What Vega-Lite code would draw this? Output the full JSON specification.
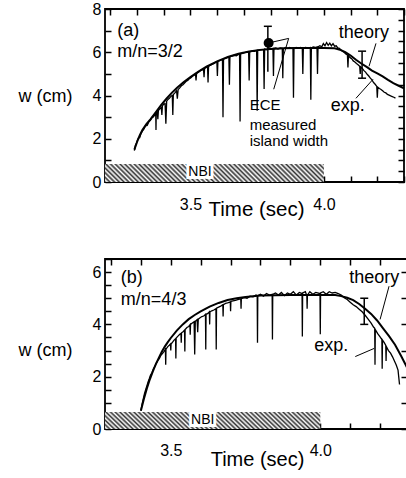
{
  "$schema": "https://vega.github.io/schema/vega-lite/v6.json",
  "padding": {"left": 17, "top": 0, "right": 0, "bottom": 0},
  "spacing": 29,
  "background": "white",
  "config": {
    "view": {"stroke": "black", "strokeWidth": 1.8},
    "font": "Liberation Sans",
    "axis": {"grid": false, "domain": false, "labelFont": "Liberation Sans", "titleFont": "Liberation Sans", "labelFontSize": 16, "titleFontSize": 18, "titleFontWeight": "normal", "labelColor": "black", "titleColor": "black", "tickColor": "black", "tickSize": 6, "offset": -6, "tickWidth": 1.5, "labelOverlap": false, "labelFlush": false, "zindex": 2},
    "text": {"font": "Liberation Sans", "color": "black"},
    "rect": {"fill": {"gradient": "linear", "x1": 0, "y1": 1, "x2": 1.0753, "y2": 0.9112, "stops": [
      {"offset": 0, "color": "#333333"}, {"offset": 0.01, "color": "#ffffff"}, {"offset": 0.02, "color": "#333333"}, {"offset": 0.03, "color": "#ffffff"}, {"offset": 0.04, "color": "#333333"},
      {"offset": 0.05, "color": "#ffffff"}, {"offset": 0.06, "color": "#333333"}, {"offset": 0.07, "color": "#ffffff"}, {"offset": 0.08, "color": "#333333"}, {"offset": 0.09, "color": "#ffffff"},
      {"offset": 0.1, "color": "#333333"}, {"offset": 0.11, "color": "#ffffff"}, {"offset": 0.12, "color": "#333333"}, {"offset": 0.13, "color": "#ffffff"}, {"offset": 0.14, "color": "#333333"},
      {"offset": 0.15, "color": "#ffffff"}, {"offset": 0.16, "color": "#333333"}, {"offset": 0.17, "color": "#ffffff"}, {"offset": 0.18, "color": "#333333"}, {"offset": 0.19, "color": "#ffffff"},
      {"offset": 0.2, "color": "#333333"}, {"offset": 0.21, "color": "#ffffff"}, {"offset": 0.22, "color": "#333333"}, {"offset": 0.23, "color": "#ffffff"}, {"offset": 0.24, "color": "#333333"},
      {"offset": 0.25, "color": "#ffffff"}, {"offset": 0.26, "color": "#333333"}, {"offset": 0.27, "color": "#ffffff"}, {"offset": 0.28, "color": "#333333"}, {"offset": 0.29, "color": "#ffffff"},
      {"offset": 0.3, "color": "#333333"}, {"offset": 0.31, "color": "#ffffff"}, {"offset": 0.32, "color": "#333333"}, {"offset": 0.33, "color": "#ffffff"}, {"offset": 0.34, "color": "#333333"},
      {"offset": 0.35, "color": "#ffffff"}, {"offset": 0.36, "color": "#333333"}, {"offset": 0.37, "color": "#ffffff"}, {"offset": 0.38, "color": "#333333"}, {"offset": 0.39, "color": "#ffffff"},
      {"offset": 0.4, "color": "#333333"}, {"offset": 0.41, "color": "#ffffff"}, {"offset": 0.42, "color": "#333333"}, {"offset": 0.43, "color": "#ffffff"}, {"offset": 0.44, "color": "#333333"},
      {"offset": 0.45, "color": "#ffffff"}, {"offset": 0.46, "color": "#333333"}, {"offset": 0.47, "color": "#ffffff"}, {"offset": 0.48, "color": "#333333"}, {"offset": 0.49, "color": "#ffffff"},
      {"offset": 0.5, "color": "#333333"}, {"offset": 0.51, "color": "#ffffff"}, {"offset": 0.52, "color": "#333333"}, {"offset": 0.53, "color": "#ffffff"}, {"offset": 0.54, "color": "#333333"},
      {"offset": 0.55, "color": "#ffffff"}, {"offset": 0.56, "color": "#333333"}, {"offset": 0.57, "color": "#ffffff"}, {"offset": 0.58, "color": "#333333"}, {"offset": 0.59, "color": "#ffffff"},
      {"offset": 0.6, "color": "#333333"}, {"offset": 0.61, "color": "#ffffff"}, {"offset": 0.62, "color": "#333333"}, {"offset": 0.63, "color": "#ffffff"}, {"offset": 0.64, "color": "#333333"},
      {"offset": 0.65, "color": "#ffffff"}, {"offset": 0.66, "color": "#333333"}, {"offset": 0.67, "color": "#ffffff"}, {"offset": 0.68, "color": "#333333"}, {"offset": 0.69, "color": "#ffffff"},
      {"offset": 0.7, "color": "#333333"}, {"offset": 0.71, "color": "#ffffff"}, {"offset": 0.72, "color": "#333333"}, {"offset": 0.73, "color": "#ffffff"}, {"offset": 0.74, "color": "#333333"},
      {"offset": 0.75, "color": "#ffffff"}, {"offset": 0.76, "color": "#333333"}, {"offset": 0.77, "color": "#ffffff"}, {"offset": 0.78, "color": "#333333"}, {"offset": 0.79, "color": "#ffffff"},
      {"offset": 0.8, "color": "#333333"}, {"offset": 0.81, "color": "#ffffff"}, {"offset": 0.82, "color": "#333333"}, {"offset": 0.83, "color": "#ffffff"}, {"offset": 0.84, "color": "#333333"},
      {"offset": 0.85, "color": "#ffffff"}, {"offset": 0.86, "color": "#333333"}, {"offset": 0.87, "color": "#ffffff"}, {"offset": 0.88, "color": "#333333"}, {"offset": 0.89, "color": "#ffffff"},
      {"offset": 0.9, "color": "#333333"}, {"offset": 0.91, "color": "#ffffff"}, {"offset": 0.92, "color": "#333333"}, {"offset": 0.93, "color": "#ffffff"}, {"offset": 0.94, "color": "#333333"},
      {"offset": 0.95, "color": "#ffffff"}, {"offset": 0.96, "color": "#333333"}, {"offset": 0.97, "color": "#ffffff"}, {"offset": 0.98, "color": "#333333"}, {"offset": 0.99, "color": "#ffffff"},
      {"offset": 1, "color": "#333333"}
    ]}}
  },
  "resolve": {"scale": {"x": "independent", "y": "independent"}},
  "datasets": {
    "nbiA": [{"t": 3.18, "t2": 4.0, "w": 0, "w2": 0.83}],
    "nbiB": [{"t": 3.28, "t2": 4.0, "w": 0, "w2": 0.65}],
    "nbiTextA": [{"t": 3.536, "w": 0.44, "s": "NBI"}],
    "nbiTextB": [{"t": 3.607, "w": 0.36, "s": "NBI"}],
    "thA": [
      {"t": 3.29, "w": 1.5}, {"t": 3.3, "w": 1.85}, {"t": 3.31, "w": 2.15}, {"t": 3.32, "w": 2.4}, {"t": 3.335, "w": 2.68},
      {"t": 3.35, "w": 2.9}, {"t": 3.37, "w": 3.22}, {"t": 3.39, "w": 3.55}, {"t": 3.41, "w": 3.85}, {"t": 3.43, "w": 4.12},
      {"t": 3.45, "w": 4.36}, {"t": 3.475, "w": 4.62}, {"t": 3.5, "w": 4.85}, {"t": 3.53, "w": 5.1}, {"t": 3.56, "w": 5.33},
      {"t": 3.6, "w": 5.58}, {"t": 3.64, "w": 5.78}, {"t": 3.68, "w": 5.93}, {"t": 3.72, "w": 6.04}, {"t": 3.76, "w": 6.11},
      {"t": 3.8, "w": 6.15}, {"t": 3.85, "w": 6.18}, {"t": 3.9, "w": 6.2}, {"t": 3.95, "w": 6.2}, {"t": 4.0, "w": 6.2},
      {"t": 4.04, "w": 6.18}, {"t": 4.06, "w": 6.12}, {"t": 4.08, "w": 6.0}, {"t": 4.1, "w": 5.85}, {"t": 4.12, "w": 5.65},
      {"t": 4.14, "w": 5.48}, {"t": 4.16, "w": 5.32}, {"t": 4.18, "w": 5.15}, {"t": 4.2, "w": 5.02}, {"t": 4.22, "w": 4.88},
      {"t": 4.24, "w": 4.72}, {"t": 4.26, "w": 4.57}, {"t": 4.28, "w": 4.45}, {"t": 4.3, "w": 4.33}
    ],
    "expA": [
      {"t": 3.29, "w": 1.45}, {"t": 3.294, "w": 1.7}, {"t": 3.298, "w": 1.8}, {"t": 3.302, "w": 1.95}, {"t": 3.306, "w": 2.05},
      {"t": 3.31, "w": 2.05}, {"t": 3.315, "w": 2.25}, {"t": 3.32, "w": 2.35}, {"t": 3.326, "w": 2.45}, {"t": 3.332, "w": 2.6},
      {"t": 3.338, "w": 2.62}, {"t": 3.344, "w": 2.78}, {"t": 3.35, "w": 2.85}, {"t": 3.356, "w": 2.98}, {"t": 3.362, "w": 3.02},
      {"t": 3.368, "w": 3.15}, {"t": 3.37, "w": 3.18}, {"t": 3.371, "w": 2.4}, {"t": 3.372, "w": 3.2}, {"t": 3.376, "w": 3.24},
      {"t": 3.378, "w": 2.9}, {"t": 3.38, "w": 3.3}, {"t": 3.385, "w": 3.38}, {"t": 3.391, "w": 3.45}, {"t": 3.393, "w": 3.1},
      {"t": 3.395, "w": 3.52}, {"t": 3.4, "w": 3.6}, {"t": 3.405, "w": 3.62}, {"t": 3.408, "w": 2.7}, {"t": 3.411, "w": 3.74},
      {"t": 3.416, "w": 3.82}, {"t": 3.422, "w": 3.88}, {"t": 3.428, "w": 3.98}, {"t": 3.432, "w": 4.0}, {"t": 3.434, "w": 3.1},
      {"t": 3.436, "w": 4.05}, {"t": 3.442, "w": 4.12}, {"t": 3.448, "w": 4.22}, {"t": 3.451, "w": 3.85}, {"t": 3.454, "w": 4.28},
      {"t": 3.46, "w": 4.35}, {"t": 3.466, "w": 4.45}, {"t": 3.472, "w": 4.5}, {"t": 3.478, "w": 4.58}, {"t": 3.484, "w": 4.66},
      {"t": 3.49, "w": 4.7}, {"t": 3.496, "w": 4.78}, {"t": 3.502, "w": 4.82}, {"t": 3.508, "w": 4.9}, {"t": 3.514, "w": 4.94},
      {"t": 3.519, "w": 5.0}, {"t": 3.521, "w": 4.7}, {"t": 3.523, "w": 5.02}, {"t": 3.53, "w": 5.08}, {"t": 3.537, "w": 5.15},
      {"t": 3.544, "w": 5.18}, {"t": 3.549, "w": 5.22}, {"t": 3.551, "w": 4.85}, {"t": 3.553, "w": 5.25}, {"t": 3.559, "w": 5.3},
      {"t": 3.564, "w": 5.35}, {"t": 3.566, "w": 4.6}, {"t": 3.568, "w": 5.36}, {"t": 3.575, "w": 5.4}, {"t": 3.582, "w": 5.45},
      {"t": 3.589, "w": 5.48}, {"t": 3.595, "w": 5.55}, {"t": 3.599, "w": 5.56}, {"t": 3.601, "w": 4.9}, {"t": 3.603, "w": 5.58},
      {"t": 3.61, "w": 5.62}, {"t": 3.617, "w": 5.66}, {"t": 3.62, "w": 5.66}, {"t": 3.622, "w": 3.0}, {"t": 3.624, "w": 5.7},
      {"t": 3.632, "w": 5.72}, {"t": 3.64, "w": 5.76}, {"t": 3.644, "w": 5.78}, {"t": 3.646, "w": 4.5}, {"t": 3.648, "w": 5.8},
      {"t": 3.656, "w": 5.82}, {"t": 3.664, "w": 5.86}, {"t": 3.672, "w": 5.84}, {"t": 3.68, "w": 5.9}, {"t": 3.684, "w": 5.92},
      {"t": 3.686, "w": 2.8}, {"t": 3.688, "w": 5.92}, {"t": 3.696, "w": 5.95}, {"t": 3.704, "w": 5.98}, {"t": 3.712, "w": 6.0},
      {"t": 3.718, "w": 6.0}, {"t": 3.72, "w": 4.7}, {"t": 3.722, "w": 6.02}, {"t": 3.73, "w": 6.05}, {"t": 3.74, "w": 6.04},
      {"t": 3.748, "w": 6.08}, {"t": 3.75, "w": 3.3}, {"t": 3.752, "w": 6.1}, {"t": 3.76, "w": 6.1}, {"t": 3.768, "w": 6.12},
      {"t": 3.774, "w": 6.12}, {"t": 3.776, "w": 4.3}, {"t": 3.778, "w": 6.15}, {"t": 3.786, "w": 6.12}, {"t": 3.795, "w": 6.18},
      {"t": 3.803, "w": 6.15}, {"t": 3.809, "w": 6.18}, {"t": 3.811, "w": 4.9}, {"t": 3.813, "w": 6.18}, {"t": 3.82, "w": 6.2},
      {"t": 3.828, "w": 6.15}, {"t": 3.836, "w": 6.2}, {"t": 3.844, "w": 6.18}, {"t": 3.846, "w": 4.8}, {"t": 3.848, "w": 6.15},
      {"t": 3.856, "w": 6.22}, {"t": 3.864, "w": 6.18}, {"t": 3.872, "w": 6.22}, {"t": 3.88, "w": 6.18}, {"t": 3.884, "w": 6.2},
      {"t": 3.886, "w": 3.9}, {"t": 3.888, "w": 6.18}, {"t": 3.896, "w": 6.22}, {"t": 3.905, "w": 6.18}, {"t": 3.913, "w": 6.22},
      {"t": 3.919, "w": 6.2}, {"t": 3.921, "w": 5.0}, {"t": 3.923, "w": 6.18}, {"t": 3.931, "w": 6.22}, {"t": 3.94, "w": 6.2},
      {"t": 3.949, "w": 6.22}, {"t": 3.951, "w": 3.8}, {"t": 3.953, "w": 6.2}, {"t": 3.96, "w": 6.25}, {"t": 3.968, "w": 6.22},
      {"t": 3.974, "w": 6.25}, {"t": 3.976, "w": 5.0}, {"t": 3.978, "w": 6.25}, {"t": 3.985, "w": 6.3}, {"t": 3.992, "w": 6.25},
      {"t": 3.998, "w": 6.4}, {"t": 4.004, "w": 6.3}, {"t": 4.01, "w": 6.45}, {"t": 4.016, "w": 6.32}, {"t": 4.022, "w": 6.42},
      {"t": 4.028, "w": 6.3}, {"t": 4.034, "w": 6.4}, {"t": 4.04, "w": 6.28}, {"t": 4.046, "w": 6.3}, {"t": 4.052, "w": 6.2},
      {"t": 4.058, "w": 6.18}, {"t": 4.064, "w": 6.1}, {"t": 4.07, "w": 6.05}, {"t": 4.076, "w": 6.0}, {"t": 4.082, "w": 5.92},
      {"t": 4.088, "w": 5.88}, {"t": 4.09, "w": 5.3}, {"t": 4.092, "w": 5.85}, {"t": 4.098, "w": 5.75}, {"t": 4.104, "w": 5.7},
      {"t": 4.11, "w": 5.6}, {"t": 4.116, "w": 5.55}, {"t": 4.122, "w": 5.48}, {"t": 4.128, "w": 5.42}, {"t": 4.134, "w": 5.35},
      {"t": 4.136, "w": 5.0}, {"t": 4.138, "w": 5.32}, {"t": 4.144, "w": 5.25}, {"t": 4.15, "w": 5.15}, {"t": 4.156, "w": 5.08},
      {"t": 4.162, "w": 4.98}, {"t": 4.168, "w": 4.9}, {"t": 4.174, "w": 4.8}, {"t": 4.18, "w": 4.72}, {"t": 4.186, "w": 4.6},
      {"t": 4.192, "w": 4.52}, {"t": 4.198, "w": 4.42}, {"t": 4.2, "w": 3.9}, {"t": 4.202, "w": 4.38}, {"t": 4.208, "w": 4.32},
      {"t": 4.214, "w": 4.28}, {"t": 4.22, "w": 4.22}, {"t": 4.226, "w": 4.15}, {"t": 4.232, "w": 4.12}, {"t": 4.238, "w": 4.05},
      {"t": 4.244, "w": 4.02}, {"t": 4.25, "w": 3.98}, {"t": 4.256, "w": 3.95}, {"t": 4.262, "w": 3.92}, {"t": 4.268, "w": 3.88}
    ],
    "thB": [
      {"t": 3.4, "w": 0.7}, {"t": 3.41, "w": 1.15}, {"t": 3.42, "w": 1.55}, {"t": 3.43, "w": 1.9}, {"t": 3.44, "w": 2.2},
      {"t": 3.45, "w": 2.48}, {"t": 3.46, "w": 2.72}, {"t": 3.47, "w": 2.95}, {"t": 3.48, "w": 3.15}, {"t": 3.49, "w": 3.32},
      {"t": 3.5, "w": 3.48}, {"t": 3.52, "w": 3.76}, {"t": 3.54, "w": 4.0}, {"t": 3.56, "w": 4.2}, {"t": 3.58, "w": 4.36},
      {"t": 3.6, "w": 4.5}, {"t": 3.63, "w": 4.68}, {"t": 3.66, "w": 4.82}, {"t": 3.69, "w": 4.93}, {"t": 3.72, "w": 5.0},
      {"t": 3.75, "w": 5.05}, {"t": 3.8, "w": 5.1}, {"t": 3.9, "w": 5.12}, {"t": 4.0, "w": 5.12}, {"t": 4.05, "w": 5.12},
      {"t": 4.07, "w": 5.08}, {"t": 4.09, "w": 5.02}, {"t": 4.11, "w": 4.93}, {"t": 4.13, "w": 4.78}, {"t": 4.15, "w": 4.6},
      {"t": 4.17, "w": 4.4}, {"t": 4.19, "w": 4.15}, {"t": 4.21, "w": 3.85}, {"t": 4.23, "w": 3.55}, {"t": 4.25, "w": 3.22},
      {"t": 4.27, "w": 2.8}, {"t": 4.29, "w": 2.35}
    ],
    "expB": [
      {"t": 3.4, "w": 0.7}, {"t": 3.404, "w": 0.95}, {"t": 3.408, "w": 1.15}, {"t": 3.412, "w": 1.35}, {"t": 3.416, "w": 1.5},
      {"t": 3.42, "w": 1.65}, {"t": 3.424, "w": 1.8}, {"t": 3.428, "w": 1.92}, {"t": 3.432, "w": 2.05}, {"t": 3.437, "w": 2.15},
      {"t": 3.442, "w": 2.3}, {"t": 3.447, "w": 2.4}, {"t": 3.452, "w": 2.52}, {"t": 3.457, "w": 2.62}, {"t": 3.462, "w": 2.7},
      {"t": 3.467, "w": 2.82}, {"t": 3.472, "w": 2.88}, {"t": 3.477, "w": 2.96}, {"t": 3.482, "w": 3.05}, {"t": 3.483, "w": 2.46},
      {"t": 3.484, "w": 3.05}, {"t": 3.49, "w": 3.15}, {"t": 3.495, "w": 3.2}, {"t": 3.499, "w": 3.25}, {"t": 3.5, "w": 3.0},
      {"t": 3.501, "w": 3.25}, {"t": 3.506, "w": 3.32}, {"t": 3.511, "w": 3.4}, {"t": 3.516, "w": 3.45}, {"t": 3.517, "w": 2.7},
      {"t": 3.518, "w": 3.48}, {"t": 3.524, "w": 3.55}, {"t": 3.53, "w": 3.62}, {"t": 3.534, "w": 3.65}, {"t": 3.535, "w": 3.3},
      {"t": 3.536, "w": 3.68}, {"t": 3.541, "w": 3.72}, {"t": 3.546, "w": 3.78}, {"t": 3.547, "w": 2.96}, {"t": 3.548, "w": 3.8},
      {"t": 3.554, "w": 3.88}, {"t": 3.56, "w": 3.92}, {"t": 3.564, "w": 3.98}, {"t": 3.565, "w": 3.6}, {"t": 3.566, "w": 4.0},
      {"t": 3.572, "w": 4.05}, {"t": 3.578, "w": 4.1}, {"t": 3.58, "w": 2.85}, {"t": 3.582, "w": 4.12}, {"t": 3.588, "w": 4.18},
      {"t": 3.59, "w": 3.7}, {"t": 3.592, "w": 4.2}, {"t": 3.598, "w": 4.25}, {"t": 3.604, "w": 4.3}, {"t": 3.61, "w": 4.32},
      {"t": 3.616, "w": 4.38}, {"t": 3.617, "w": 3.04}, {"t": 3.618, "w": 4.38}, {"t": 3.624, "w": 4.42}, {"t": 3.629, "w": 4.48},
      {"t": 3.63, "w": 4.0}, {"t": 3.631, "w": 4.48}, {"t": 3.637, "w": 4.52}, {"t": 3.644, "w": 4.55}, {"t": 3.651, "w": 4.6},
      {"t": 3.652, "w": 3.04}, {"t": 3.653, "w": 4.62}, {"t": 3.66, "w": 4.66}, {"t": 3.667, "w": 4.7}, {"t": 3.674, "w": 4.75},
      {"t": 3.675, "w": 4.3}, {"t": 3.676, "w": 4.75}, {"t": 3.683, "w": 4.8}, {"t": 3.69, "w": 4.82}, {"t": 3.699, "w": 4.86},
      {"t": 3.7, "w": 4.5}, {"t": 3.701, "w": 4.88}, {"t": 3.708, "w": 4.9}, {"t": 3.716, "w": 4.92}, {"t": 3.724, "w": 4.95},
      {"t": 3.734, "w": 4.98}, {"t": 3.735, "w": 4.6}, {"t": 3.736, "w": 4.98}, {"t": 3.745, "w": 5.02}, {"t": 3.755, "w": 5.0},
      {"t": 3.765, "w": 5.08}, {"t": 3.775, "w": 5.05}, {"t": 3.785, "w": 5.12}, {"t": 3.789, "w": 5.1}, {"t": 3.79, "w": 3.3},
      {"t": 3.791, "w": 5.1}, {"t": 3.8, "w": 5.15}, {"t": 3.81, "w": 5.08}, {"t": 3.82, "w": 5.18}, {"t": 3.83, "w": 5.12},
      {"t": 3.839, "w": 5.15}, {"t": 3.84, "w": 3.42}, {"t": 3.841, "w": 5.15}, {"t": 3.85, "w": 5.2}, {"t": 3.86, "w": 5.12},
      {"t": 3.87, "w": 5.22}, {"t": 3.88, "w": 5.1}, {"t": 3.89, "w": 5.2}, {"t": 3.9, "w": 5.15}, {"t": 3.91, "w": 5.25},
      {"t": 3.92, "w": 5.12}, {"t": 3.93, "w": 5.22}, {"t": 3.939, "w": 5.18}, {"t": 3.94, "w": 3.54}, {"t": 3.941, "w": 5.2},
      {"t": 3.95, "w": 5.25}, {"t": 3.955, "w": 5.1}, {"t": 3.956, "w": 4.6}, {"t": 3.957, "w": 5.12}, {"t": 3.965, "w": 5.25},
      {"t": 3.975, "w": 5.15}, {"t": 3.985, "w": 5.22}, {"t": 3.999, "w": 5.18}, {"t": 4.0, "w": 3.62}, {"t": 4.001, "w": 5.2},
      {"t": 4.01, "w": 5.25}, {"t": 4.02, "w": 5.15}, {"t": 4.03, "w": 5.25}, {"t": 4.04, "w": 5.2}, {"t": 4.05, "w": 5.22},
      {"t": 4.06, "w": 5.18}, {"t": 4.07, "w": 5.12}, {"t": 4.08, "w": 5.02}, {"t": 4.09, "w": 4.95}, {"t": 4.1, "w": 4.85},
      {"t": 4.11, "w": 4.75}, {"t": 4.12, "w": 4.68}, {"t": 4.13, "w": 4.58}, {"t": 4.14, "w": 4.48}, {"t": 4.15, "w": 4.35},
      {"t": 4.16, "w": 4.2}, {"t": 4.17, "w": 4.05}, {"t": 4.178, "w": 3.9}, {"t": 4.182, "w": 3.85}, {"t": 4.183, "w": 2.46},
      {"t": 4.184, "w": 3.8}, {"t": 4.192, "w": 3.65}, {"t": 4.2, "w": 3.52}, {"t": 4.206, "w": 3.42}, {"t": 4.207, "w": 2.3},
      {"t": 4.208, "w": 3.4}, {"t": 4.214, "w": 3.3}, {"t": 4.219, "w": 3.2}, {"t": 4.22, "w": 2.6}, {"t": 4.221, "w": 3.15},
      {"t": 4.228, "w": 3.0}, {"t": 4.235, "w": 2.9}, {"t": 4.242, "w": 2.75}, {"t": 4.248, "w": 2.6}, {"t": 4.254, "w": 2.45},
      {"t": 4.26, "w": 2.25}, {"t": 4.265, "w": 1.7}
    ],
    "errA": [{"t": 3.79, "lo": 5.1, "hi": 7.2}, {"t": 4.143, "lo": 4.8, "hi": 6.05}],
    "capsA": [{"t": 3.79, "w": 7.2}, {"t": 4.143, "w": 6.05}, {"t": 4.143, "w": 4.8}],
    "dotA": [{"t": 3.793, "w": 6.43}],
    "errB": [{"t": 4.147, "lo": 4.0, "hi": 5.0}],
    "capsB": [{"t": 4.147, "w": 5.0}, {"t": 4.147, "w": 4.0}],
    "leadA": [
      {"t": 4.195, "w": 6.41, "t2": 4.169, "w2": 5.35},
      {"t": 4.12, "w": 3.87, "t2": 4.184, "w2": 4.75},
      {"t": 3.812, "w": 4.29, "t2": 3.868, "w2": 6.64},
      {"t": 3.8, "w": 6.45, "t2": 3.868, "w2": 6.64}
    ],
    "leadB": [
      {"t": 4.23, "w": 5.46, "t2": 4.2, "w2": 4.19},
      {"t": 4.117, "w": 2.77, "t2": 4.18, "w2": 3.08}
    ],
    "labA": [
      {"t": 3.226, "w": 7.0, "s": "(a)"},
      {"t": 3.226, "w": 6.0, "s": "m/n=3/2"},
      {"t": 4.056, "w": 6.9, "s": "theory"},
      {"t": 4.026, "w": 3.5, "s": "exp."}
    ],
    "eceA": [
      {"t": 3.722, "w": 3.54, "s": "ECE"},
      {"t": 3.722, "w": 2.64, "s": "measured"},
      {"t": 3.722, "w": 1.9, "s": "island width"}
    ],
    "labB": [
      {"t": 3.333, "w": 5.79, "s": "(b)"},
      {"t": 3.333, "w": 4.94, "s": "m/n=4/3"},
      {"t": 4.097, "w": 5.77, "s": "theory"},
      {"t": 3.98, "w": 3.19, "s": "exp."}
    ]
  },
  "vconcat": [
    {
      "width": 299,
      "height": 173,
      "resolve": {"axis": {"x": "independent", "y": "independent"}},
      "layer": [
        {
          "data": {"name": "nbiA"},
          "mark": {"type": "rect"},
          "encoding": {
            "x": {"field": "t", "type": "quantitative", "scale": {"domain": [3.18, 4.3], "nice": false, "zero": false},
              "axis": {"orient": "bottom", "values": [3.2, 3.3, 3.4, 3.5, 3.6, 3.7, 3.8, 3.9, 4.0, 4.1, 4.2, 4.3], "labelExpr": "datum.value == 3.5 || datum.value == 4 ? format(datum.value, '.1f') : ''", "labelPadding": 14, "title": "Time (sec)", "titleFontSize": 20.5, "titleX": 151, "titleY": 39, "titleAlign": "center", "titleBaseline": "alphabetic"}},
            "x2": {"field": "t2"},
            "y": {"field": "w", "type": "quantitative", "scale": {"domain": [0, 8], "nice": false, "zero": false},
              "axis": {"orient": "left", "values": [0, 1, 2, 3, 4, 5, 6, 7, 8], "labelExpr": "datum.value % 2 == 0 ? format(datum.value, 'd') : ''", "labelPadding": 4, "title": "w (cm)", "titleAngle": 0, "titleX": -93, "titleY": 92, "titleAlign": "left", "titleBaseline": "alphabetic"}},
            "y2": {"field": "w2"}
          }
        },
        {
          "data": {"name": "thA"},
          "mark": {"type": "line", "color": "black", "strokeWidth": 2},
          "encoding": {
            "x": {"field": "t", "type": "quantitative", "axis": {"orient": "top", "labels": false, "title": null, "values": [3.2, 3.3, 3.4, 3.5, 3.6, 3.7, 3.8, 3.9, 4.0, 4.1, 4.2, 4.3]}},
            "y": {"field": "w", "type": "quantitative", "axis": {"orient": "right", "labels": false, "title": null, "values": [0, 0.5, 1, 1.5, 2, 2.5, 3, 3.5, 4, 4.5, 5, 5.5, 6, 6.5, 7, 7.5, 8]}}
          }
        },
        {
          "data": {"name": "expA"},
          "mark": {"type": "line", "color": "black", "strokeWidth": 1.3},
          "encoding": {
            "x": {"field": "t", "type": "quantitative", "axis": null},
            "y": {"field": "w", "type": "quantitative", "axis": null}
          }
        },
        {
          "data": {"name": "errA"},
          "mark": {"type": "rule", "color": "black", "strokeWidth": 1.5},
          "encoding": {
            "x": {"field": "t", "type": "quantitative", "axis": null},
            "y": {"field": "lo", "type": "quantitative", "axis": null},
            "y2": {"field": "hi"}
          }
        },
        {
          "data": {"name": "capsA"},
          "mark": {"type": "tick", "orient": "horizontal", "color": "black", "size": 8, "thickness": 1.5, "opacity": 1},
          "encoding": {
            "x": {"field": "t", "type": "quantitative", "axis": null},
            "y": {"field": "w", "type": "quantitative", "axis": null}
          }
        },
        {
          "data": {"name": "dotA"},
          "mark": {"type": "point", "filled": true, "color": "black", "size": 100, "opacity": 1},
          "encoding": {
            "x": {"field": "t", "type": "quantitative", "axis": null},
            "y": {"field": "w", "type": "quantitative", "axis": null}
          }
        },
        {
          "data": {"name": "leadA"},
          "mark": {"type": "rule", "color": "black", "strokeWidth": 1},
          "encoding": {
            "x": {"field": "t", "type": "quantitative", "axis": null},
            "y": {"field": "w", "type": "quantitative", "axis": null},
            "x2": {"field": "t2"},
            "y2": {"field": "w2"}
          }
        },
        {
          "data": {"name": "labA"},
          "mark": {"type": "text", "align": "left", "baseline": "middle", "fontSize": 18, "font": "Liberation Sans", "color": "black"},
          "encoding": {
            "x": {"field": "t", "type": "quantitative", "axis": null},
            "y": {"field": "w", "type": "quantitative", "axis": null},
            "text": {"field": "s"}
          }
        },
        {
          "data": {"name": "eceA"},
          "mark": {"type": "text", "align": "left", "baseline": "middle", "fontSize": 15, "font": "Liberation Sans", "color": "black"},
          "encoding": {
            "x": {"field": "t", "type": "quantitative", "axis": null},
            "y": {"field": "w", "type": "quantitative", "axis": null},
            "text": {"field": "s"}
          }
        },
        {
          "data": {"name": "nbiTextA"},
          "mark": {"type": "text", "align": "center", "baseline": "middle", "fontSize": 14, "font": "Liberation Sans", "fill": "white", "stroke": "white", "strokeWidth": 6},
          "encoding": {
            "x": {"field": "t", "type": "quantitative", "axis": null},
            "y": {"field": "w", "type": "quantitative", "axis": null},
            "text": {"field": "s"}
          }
        },
        {
          "data": {"name": "nbiTextA"},
          "mark": {"type": "text", "align": "center", "baseline": "middle", "fontSize": 14, "font": "Liberation Sans", "color": "black"},
          "encoding": {
            "x": {"field": "t", "type": "quantitative", "axis": null},
            "y": {"field": "w", "type": "quantitative", "axis": null},
            "text": {"field": "s"}
          }
        }
      ]
    },
    {
      "width": 302,
      "height": 170,
      "resolve": {"axis": {"x": "independent", "y": "independent"}},
      "layer": [
        {
          "data": {"name": "nbiB"},
          "mark": {"type": "rect"},
          "encoding": {
            "x": {"field": "t", "type": "quantitative", "scale": {"domain": [3.28, 4.29], "nice": false, "zero": false},
              "axis": {"orient": "bottom", "values": [3.3, 3.4, 3.5, 3.6, 3.7, 3.8, 3.9, 4.0, 4.1, 4.2], "labelExpr": "datum.value == 3.5 || datum.value == 4 ? format(datum.value, '.1f') : ''", "labelPadding": 13, "title": "Time (sec)", "titleFontSize": 20, "titleX": 152, "titleY": 42, "titleAlign": "center", "titleBaseline": "alphabetic"}},
            "x2": {"field": "t2"},
            "y": {"field": "w", "type": "quantitative", "scale": {"domain": [0, 6.5], "nice": false, "zero": false},
              "axis": {"orient": "left", "values": [0, 0.5, 1, 1.5, 2, 2.5, 3, 3.5, 4, 4.5, 5, 5.5, 6, 6.5], "labelExpr": "datum.value % 2 == 0 ? format(datum.value, 'd') : ''", "labelPadding": 4, "title": "w (cm)", "titleAngle": 0, "titleX": -93, "titleY": 96, "titleAlign": "left", "titleBaseline": "alphabetic"}},
            "y2": {"field": "w2"}
          }
        },
        {
          "data": {"name": "thB"},
          "mark": {"type": "line", "color": "black", "strokeWidth": 2},
          "encoding": {
            "x": {"field": "t", "type": "quantitative", "axis": {"orient": "top", "labels": false, "title": null, "values": [3.3, 3.4, 3.5, 3.6, 3.7, 3.8, 3.9, 4.0, 4.1, 4.2]}},
            "y": {"field": "w", "type": "quantitative", "axis": {"orient": "right", "labels": false, "title": null, "values": [0, 1, 2, 3, 4, 5, 6]}}
          }
        },
        {
          "data": {"name": "expB"},
          "mark": {"type": "line", "color": "black", "strokeWidth": 1.3},
          "encoding": {
            "x": {"field": "t", "type": "quantitative", "axis": null},
            "y": {"field": "w", "type": "quantitative", "axis": null}
          }
        },
        {
          "data": {"name": "errB"},
          "mark": {"type": "rule", "color": "black", "strokeWidth": 1.5},
          "encoding": {
            "x": {"field": "t", "type": "quantitative", "axis": null},
            "y": {"field": "lo", "type": "quantitative", "axis": null},
            "y2": {"field": "hi"}
          }
        },
        {
          "data": {"name": "capsB"},
          "mark": {"type": "tick", "orient": "horizontal", "color": "black", "size": 8, "thickness": 1.5, "opacity": 1},
          "encoding": {
            "x": {"field": "t", "type": "quantitative", "axis": null},
            "y": {"field": "w", "type": "quantitative", "axis": null}
          }
        },
        {
          "data": {"name": "leadB"},
          "mark": {"type": "rule", "color": "black", "strokeWidth": 1},
          "encoding": {
            "x": {"field": "t", "type": "quantitative", "axis": null},
            "y": {"field": "w", "type": "quantitative", "axis": null},
            "x2": {"field": "t2"},
            "y2": {"field": "w2"}
          }
        },
        {
          "data": {"name": "labB"},
          "mark": {"type": "text", "align": "left", "baseline": "middle", "fontSize": 18, "font": "Liberation Sans", "color": "black"},
          "encoding": {
            "x": {"field": "t", "type": "quantitative", "axis": null},
            "y": {"field": "w", "type": "quantitative", "axis": null},
            "text": {"field": "s"}
          }
        },
        {
          "data": {"name": "nbiTextB"},
          "mark": {"type": "text", "align": "center", "baseline": "middle", "fontSize": 14, "font": "Liberation Sans", "fill": "white", "stroke": "white", "strokeWidth": 6},
          "encoding": {
            "x": {"field": "t", "type": "quantitative", "axis": null},
            "y": {"field": "w", "type": "quantitative", "axis": null},
            "text": {"field": "s"}
          }
        },
        {
          "data": {"name": "nbiTextB"},
          "mark": {"type": "text", "align": "center", "baseline": "middle", "fontSize": 14, "font": "Liberation Sans", "color": "black"},
          "encoding": {
            "x": {"field": "t", "type": "quantitative", "axis": null},
            "y": {"field": "w", "type": "quantitative", "axis": null},
            "text": {"field": "s"}
          }
        }
      ]
    }
  ]
}
